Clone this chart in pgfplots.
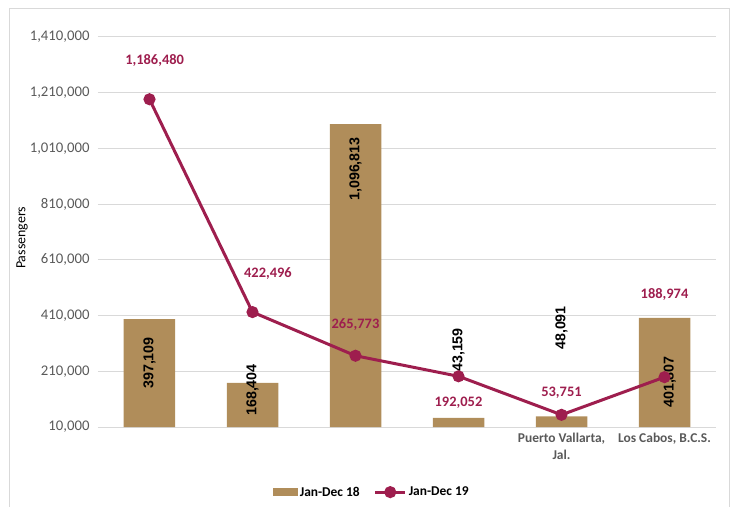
\documentclass[border=0pt]{standalone}
\usepackage{fontspec}
\setmainfont{Carlito}
\newfontfamily\arialf{Liberation Sans}
\usepackage{pgfplots}
\pgfplotsset{compat=1.18}
\definecolor{barc}{RGB}{176,141,90}
\definecolor{linec}{RGB}{158,30,78}
\definecolor{tickc}{RGB}{89,89,89}
\definecolor{gridc}{RGB}{217,217,217}
\begin{document}
\begin{tikzpicture}
\begin{axis}[
  scale only axis, width=618bp, height=390bp,
  xmin=-0.5, xmax=5.5, ymin=10000, ymax=1410000,
  ytick={10000,210000,410000,610000,810000,1010000,1210000,1410000},
  scaled y ticks=false,
  /pgf/number format/fixed,
  /pgf/number format/1000 sep={,},
  /pgf/number format/assume math mode=true,
  yticklabel style={font=\fontsize{14.8}{17}\selectfont, text=tickc, xshift=-5bp},
  xtick={0,1,2,3,4,5},
  xticklabels={,,,,{Puerto Vallarta,\\Jal.},{Los Cabos, B.C.S.}},
  xticklabel style={align=center, font=\fontsize{13.5}{17}\selectfont\bfseries, text=tickc, yshift=-3bp},
  major tick length=0,
  axis line style={draw=none},
  ymajorgrids, grid style={gridc, line width=1bp},
  ylabel={Passengers},
  ylabel style={at={(axis description cs:-0.123,0.485)}, anchor=center, font=\fontsize{14}{16}\selectfont},
  legend style={at={(axis description cs:0.443,-0.167)}, anchor=center, draw=none,
    font=\fontsize{13.5}{16}\selectfont\bfseries,
    /tikz/every even column/.append style={column sep=12bp}},
  legend columns=2,
  clip=false,
]
\addplot[ybar, bar width=0.5, fill=barc, draw=none,
  legend image code/.code={\fill[barc] (0bp,-4bp) rectangle (25bp,4bp);}]
  coordinates {(0,397109) (1,168404) (2,1096813) (3,43159) (4,48091) (5,401807)};
\addlegendentry{Jan-Dec 18}
\addplot[linec, line width=3bp, mark=*, mark size=4.5bp, mark options={fill=linec, draw=linec},
  legend image code/.code={\draw[linec, line width=3bp] (0bp,0bp) -- (30bp,0bp); \fill[linec] (15bp,0bp) circle (4.5bp);}]
  coordinates {(0,1186480) (1,422496) (2,265773) (3,192052) (4,53751) (5,188974)};
\addlegendentry{Jan-Dec 19}
% data labels, Jan-Dec 19
\begin{scope}[every node/.style={text=linec, font=\fontsize{14.5}{16}\selectfont\bfseries}]
\node at (axis cs:0.05,1327436) {1,186,480};
\node at (axis cs:1.15,559231) {422,496};
\node at (axis cs:2,376154) {265,773};
\node at (axis cs:3,96154) {192,052};
\node at (axis cs:4,132051) {53,751};
\node at (axis cs:5,487436) {188,974};
\end{scope}
% data labels, Jan-Dec 18
\begin{scope}[every node/.style={text=black, rotate=90, font=\arialf\fontsize{14.3}{16}\selectfont\bfseries}]
\node at (axis cs:0,239744) {397,109};
\node at (axis cs:1,142821) {168,404};
\node at (axis cs:2,936154) {1,096,813};
\node at (axis cs:3,286410) {43,159};
\node at (axis cs:4,365385) {48,091};
\node at (axis cs:5.05,171538) {401,807};
\end{scope}
\end{axis}
\draw[gridc, line width=1bp] (-88bp,-100bp) rectangle (631bp,418bp);
\pgfresetboundingbox
\path[use as bounding box] (-98bp,-80bp) rectangle (633bp,427bp);
\end{tikzpicture}
\end{document}
